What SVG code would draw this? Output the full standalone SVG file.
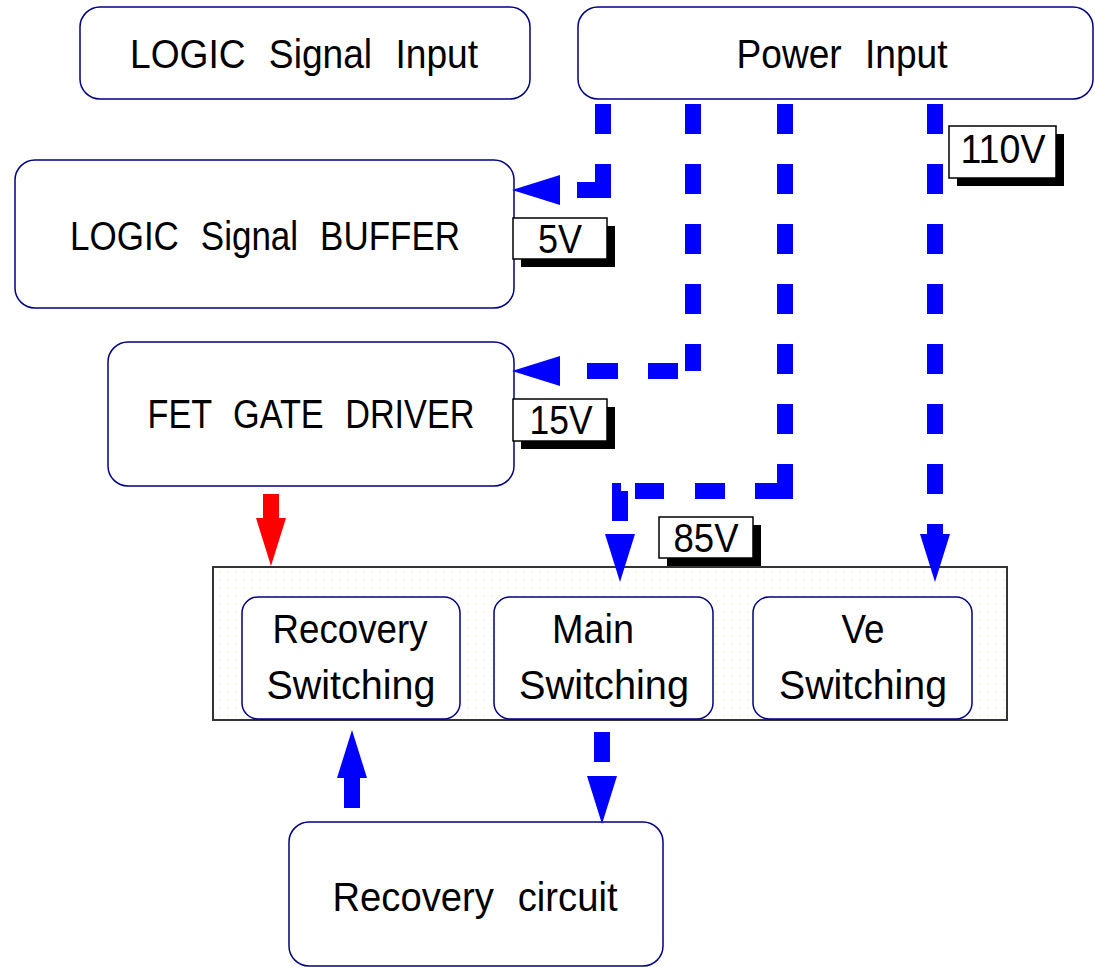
<svg xmlns="http://www.w3.org/2000/svg" width="1095" height="967" viewBox="0 0 1095 967">
<style>
.node{fill:#fff;stroke:#000080;stroke-width:1.5}
.t{font-family:"Liberation Sans",Arial,sans-serif;font-size:40px;fill:#000;text-anchor:middle;word-spacing:14px}
.lbl{fill:#fff;stroke:#000;stroke-width:1.5}
.shadow{fill:#000}
.dash{fill:none;stroke:#0000ff;stroke-width:16;stroke-linejoin:miter;stroke-linecap:butt}
</style>
<defs>
<pattern id="dots" width="8" height="8" patternUnits="userSpaceOnUse">
<rect width="8" height="8" fill="#fff"/>
<circle cx="4" cy="4" r="1" fill="#f3f3e2"/>
</pattern>
<marker id="ab" markerUnits="userSpaceOnUse" markerWidth="48" markerHeight="30" viewBox="0 0 48 30" refX="0" refY="15" orient="auto">
<path d="M0,0 L48,15 L0,30 Z" fill="#0000ff"/>
</marker>
<marker id="ar" markerUnits="userSpaceOnUse" markerWidth="48" markerHeight="30" viewBox="0 0 48 30" refX="0" refY="15" orient="auto">
<path d="M0,0 L48,15 L0,30 Z" fill="#ff0000"/>
</marker>
</defs>
<rect width="1095" height="967" fill="#fff"/>

<g id="logic-input">
<rect class="node" x="80" y="7" width="450" height="92" rx="20"/>
<text class="t" x="304" y="68" textLength="348" lengthAdjust="spacingAndGlyphs">LOGIC Signal Input</text>
</g>
<g id="power-input">
<rect class="node" x="578" y="7" width="515" height="92" rx="20"/>
<text class="t" x="842" y="68" textLength="211" lengthAdjust="spacingAndGlyphs">Power Input</text>
</g>
<g id="logic-buffer">
<rect class="node" x="15" y="160" width="499" height="148" rx="20"/>
<text class="t" x="265" y="250" textLength="390" lengthAdjust="spacingAndGlyphs">LOGIC Signal BUFFER</text>
</g>
<g id="fet-driver">
<rect class="node" x="108" y="342" width="406" height="144" rx="20"/>
<text class="t" x="311" y="428" textLength="327" lengthAdjust="spacingAndGlyphs">FET GATE DRIVER</text>
</g>
<g id="switching">
<rect x="213" y="567" width="794" height="153" fill="url(#dots)" stroke="#333" stroke-width="2"/>
<g id="recovery-switching">
<rect class="node" x="242" y="597" width="218" height="122" rx="16"/>
<text class="t" x="350" y="643" textLength="155" lengthAdjust="spacingAndGlyphs">Recovery</text>
<text class="t" x="351" y="699" textLength="169" lengthAdjust="spacingAndGlyphs">Switching</text>
</g>
<g id="main-switching">
<rect class="node" x="494" y="597" width="219" height="122" rx="16"/>
<text class="t" x="593" y="643" textLength="82" lengthAdjust="spacingAndGlyphs">Main</text>
<text class="t" x="604" y="699" textLength="170" lengthAdjust="spacingAndGlyphs">Switching</text>
</g>
<g id="ve-switching">
<rect class="node" x="753" y="597" width="219" height="122" rx="16"/>
<text class="t" x="863" y="643" textLength="43" lengthAdjust="spacingAndGlyphs">Ve</text>
<text class="t" x="863" y="699" textLength="168" lengthAdjust="spacingAndGlyphs">Switching</text>
</g>
</g>
<g id="recovery-circuit">
<rect class="node" x="289" y="822" width="374" height="144" rx="20"/>
<text class="t" x="475" y="911" textLength="285" lengthAdjust="spacingAndGlyphs">Recovery circuit</text>
</g>

<g id="connectors">
<path class="dash" d="M603,104 V190 H560" stroke-dasharray="30 30 52 100" marker-end="url(#ab)"/>
<path class="dash" d="M693,104 V371 H560" stroke-dasharray="30 30 30 30 30 30 30 30 27 15 30 30 31 100" marker-end="url(#ab)"/>
<path class="dash" d="M785,104 V491 H620 V534" stroke-dasharray="30 30 30 30 30 30 30 30 30 30 30 30 57 30 30 31 29 14 31 100" marker-end="url(#ab)"/>
<path class="dash" d="M935,104 V534" stroke-dasharray="30 30" marker-end="url(#ab)"/>
<path class="dash" d="M602,732 V776" stroke-dasharray="30 30" marker-end="url(#ab)"/>
<path d="M271,494 V518" stroke="#ff0000" stroke-width="16" marker-end="url(#ar)"/>
<path d="M352,808 V778" stroke="#0000ff" stroke-width="16" marker-end="url(#ab)"/>
</g>

<g id="label-5v">
<rect class="shadow" x="521" y="226" width="94" height="41"/>
<rect class="lbl" x="513" y="218" width="94" height="41"/>
<text class="t" x="560" y="253" textLength="44" lengthAdjust="spacingAndGlyphs">5V</text>
</g>
<g id="label-15v">
<rect class="shadow" x="521" y="407" width="94" height="42"/>
<rect class="lbl" x="513" y="399" width="94" height="42"/>
<text class="t" x="561" y="434" textLength="63" lengthAdjust="spacingAndGlyphs">15V</text>
</g>
<g id="label-85v">
<rect class="shadow" x="667" y="525" width="94" height="41"/>
<rect class="lbl" x="659" y="517" width="94" height="41"/>
<text class="t" x="706" y="552" textLength="65" lengthAdjust="spacingAndGlyphs">85V</text>
</g>
<g id="label-110v">
<rect class="shadow" x="957" y="134" width="107" height="52"/>
<rect class="lbl" x="949" y="126" width="107" height="52"/>
<text class="t" x="1003" y="163" textLength="85" lengthAdjust="spacingAndGlyphs">110V</text>
</g>
</svg>
